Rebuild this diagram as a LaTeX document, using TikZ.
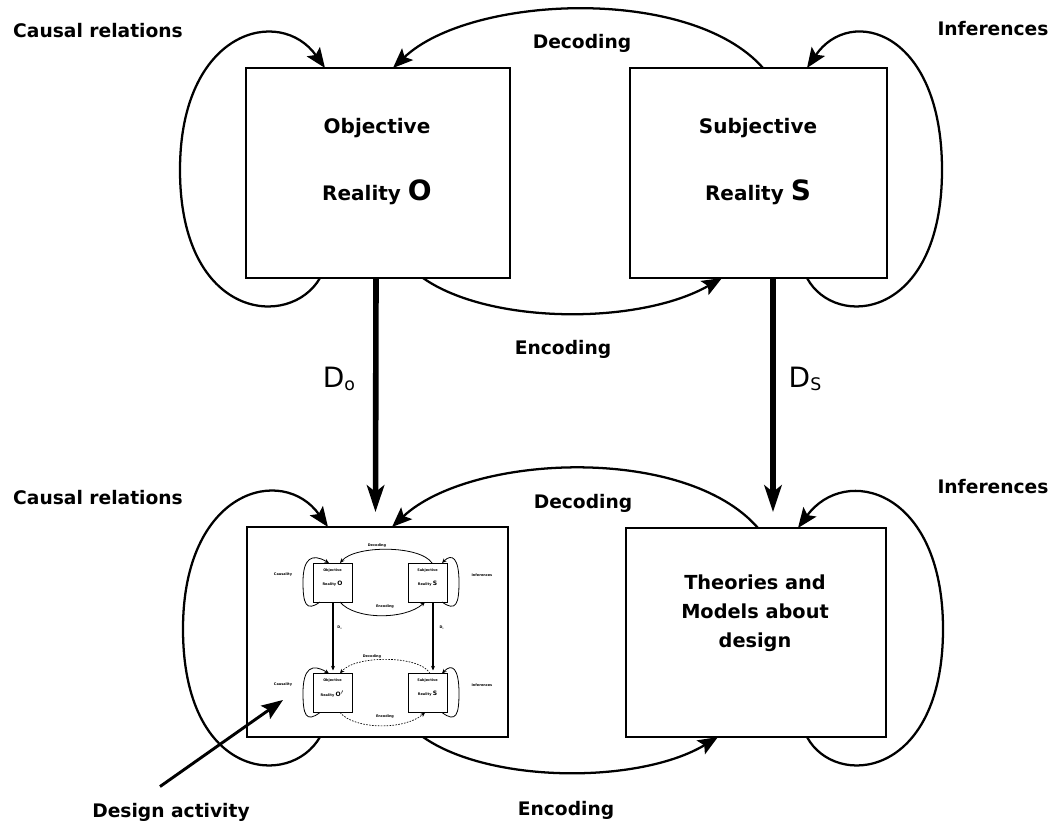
\documentclass[tikz,border=0pt]{standalone}
\usepackage{fontspec}
\setmainfont{DejaVu Sans}
\usetikzlibrary{arrows.meta,calc}
\begin{document}
\begin{tikzpicture}[x=0.75pt,y=-0.75pt,
  lbl/.style={font=\fontsize{14}{16}\selectfont\bfseries, inner sep=0pt, anchor=base},
  boxtxt/.style={font=\fontsize{15}{17}\selectfont\bfseries, inner sep=0pt, anchor=base},
  theory/.style={font=\fontsize{14.5}{21.75}\selectfont\bfseries, inner sep=0pt, align=center},
  dlbl/.style={font=\fontsize{21}{24}\selectfont, inner sep=0pt, anchor=base},
  bigbox/.style={draw, line width=1.9pt, outer sep=0pt, inner sep=0pt},
  loopline/.style={line width=1.7pt, -{Stealth[length=15pt,width=12pt,inset=3pt]}},
  dline/.style={line width=4.2pt, -{Stealth[length=20pt,width=13pt,inset=5pt]}},
  ptrline/.style={line width=2.2pt, -{Stealth[length=16pt,width=12pt,inset=3pt]}},
  minibox/.style={draw, line width=0.7pt, outer sep=0pt, inner sep=0pt, minimum width=29.25pt, minimum height=29.25pt},
  minitxt/.style={font=\fontsize{2.6}{3}\selectfont\bfseries, inner sep=0pt},
  miniline/.style={line width=0.6pt, -{Stealth[length=3.5pt,width=3pt]}},
  minidash/.style={line width=0.5pt, dashed, dash pattern=on 1.2pt off 1pt, -{Stealth[length=3.5pt,width=3pt]}}
]
\useasboundingbox (0,0) rectangle (1061,825);

% ---- the four main boxes ----
\node[bigbox, minimum width=198pt, minimum height=157.5pt] (O) at (378,173) {};
\node[bigbox, minimum width=192.75pt, minimum height=157.5pt] (S) at (758.5,173) {};
\node[bigbox, minimum width=195.75pt, minimum height=157.5pt] (L) at (377.5,632) {};
\node[bigbox, minimum width=195pt, minimum height=156.75pt] (T) at (756,632.5) {};

% ---- box texts ----
\node[boxtxt] (o1) at (377,133) {Objective};
\node[boxtxt] (o2) at (377,200) {Reality {\fontsize{21}{21}\selectfont O}};
\node[boxtxt] (s1) at (758,133) {Subjective};
\node[boxtxt] (s2) at (758,200) {Reality {\fontsize{21}{21}\selectfont S}};
\node[theory] (t1) at (755,613) {Theories and\\Models about\\design};

% ---- free labels ----
\node[lbl] (cr1) at (98,37) {Causal relations};
\node[lbl] (inf1) at (993,35) {Inferences};
\node[lbl] (dec1) at (582,48) {Decoding};
\node[lbl] (enc1) at (563,354) {Encoding};
\node[lbl] (cr2) at (98,504) {Causal relations};
\node[lbl] (inf2) at (993,493) {Inferences};
\node[lbl] (dec2) at (583,508) {Decoding};
\node[lbl] (enc2) at (566,815) {Encoding};
\node[lbl] (dact) at (171,817) {Design activity};
\node[dlbl] (do) at (339,387) {D\raisebox{-2.5pt}{\fontsize{13}{13}\selectfont o}};
\node[dlbl] (ds) at (805,387) {D\raisebox{-2.5pt}{\fontsize{13}{13}\selectfont S}};

% ---- upper loops ----
\draw[loopline] ($(O.south west)+(74,0)$) .. controls (290,330) and (180,320) .. (180,170)
  .. controls (180,30) and (280,5) .. ($(O.north west)+(79,0)$);
\draw[loopline] ($(S.south east)+(-80,0)$) .. controls (835,330) and (942,320) .. (942,170)
  .. controls (942,30) and (850,5) .. ($(S.north east)+(-80,0)$);
\draw[loopline] ($(S.north west)+(133,0)$) .. controls (690,-15) and (470,-5) .. ($(O.north west)+(147,0)$);
\draw[loopline] ($(O.south west)+(177,0)$) .. controls (490,325) and (640,325) .. ($(S.south west)+(92,0)$);

% ---- vertical mappings ----
\draw[dline] ($(O.south west)+(130,0)$) -- ($(L.north west)+(128.5,-15)$);
\draw[dline] ($(S.south west)+(143,0)$) -- ($(T.north west)+(147,-16)$);

% ---- lower loops ----
\draw[loopline] ($(L.south west)+(73,0)$) .. controls (290,789) and (183,779) .. (183,629)
  .. controls (183,489) and (283,464) .. ($(L.north west)+(81,0)$);
\draw[loopline] ($(T.south east)+(-79,0)$) .. controls (835,789) and (943,779) .. (943,629)
  .. controls (943,489) and (845,464) .. ($(T.north east)+(-88,0)$);
\draw[loopline] ($(T.north west)+(132,0)$) .. controls (685,444) and (470,454) .. ($(L.north west)+(145,0)$);
\draw[loopline] ($(L.south west)+(176,0)$) .. controls (490,784) and (640,784) .. ($(T.south west)+(92,0)$);

% ---- miniature of the scheme inside the lower left box ----
\node[minibox] (mO) at (332.5,582.5) {};
\node[minibox] (mS) at (427.5,582.5) {};
\node[minibox] (mO2) at (332.5,693) {};
\node[minibox] (mS2) at (427.5,693) {};
\node[minitxt] (mo1) at (332.5,571) {Objective};
\node[minitxt] (mo2) at (332.5,584) {Reality {\fontsize{4.5}{4.5}\selectfont O}};
\node[minitxt] (ms1) at (427.5,571) {Subjective};
\node[minitxt] (ms2) at (427.5,584) {Reality {\fontsize{4.5}{4.5}\selectfont S}};
\node[minitxt] (mo3) at (332.5,681) {Objective};
\node[minitxt] (mo4) at (332.5,694) {Reality {\fontsize{4.5}{4.5}\selectfont O$'$}};
\node[minitxt] (ms3) at (427.5,681) {Subjective};
\node[minitxt] (ms4) at (427.5,694) {Reality {\fontsize{4.5}{4.5}\selectfont S}};
\node[minitxt] (mdec1) at (377,546) {Decoding};
\node[minitxt] (menc1) at (385,607) {Encoding};
\node[minitxt] (mcr1) at (283,575) {Causality};
\node[minitxt] (minf1) at (482,575) {Inferences};
\node[minitxt] (mdo) at (340,628) {D$_\mathrm{o}$};
\node[minitxt] (mds) at (442,628) {D$_\mathrm{s}$};
\node[minitxt] (mdec2) at (372,657) {Decoding};
\node[minitxt] (menc2) at (385,717) {Encoding};
\node[minitxt] (mcr2) at (283,685) {Causality};
\node[minitxt] (minf2) at (482,685) {Inferences};

\draw[miniline] ($(mO.south west)+(7,0)$) .. controls (306,612) and (303,604) .. (303,582)
  .. controls (303,558) and (312,553) .. ($(mO.north west)+(16,0)$);
\draw[miniline] ($(mS.south east)+(-5,0)$) .. controls (456,612) and (459,604) .. (459,582)
  .. controls (459,558) and (452,553) .. ($(mS.north east)+(-5,0)$);
\draw[miniline] ($(mS.north west)+(24,0)$) .. controls (420,545) and (355,545) .. ($(mO.north west)+(27,0)$);
\draw[miniline] ($(mO.south west)+(27,0)$) .. controls (355,620) and (405,620) .. ($(mS.south west)+(17,0)$);
\draw[miniline, line width=0.8pt] ($(mO.south west)+(20,0)$) -- ($(mO2.north west)+(20,-3)$);
\draw[miniline, line width=0.8pt] ($(mS.south west)+(25,0)$) -- ($(mS2.north west)+(25,-3)$);
\draw[miniline] ($(mO2.south west)+(7,0)$) .. controls (306,723) and (303,715) .. (303,693)
  .. controls (303,668) and (312,663) .. ($(mO2.north west)+(16,0)$);
\draw[miniline] ($(mS2.south east)+(-5,0)$) .. controls (456,723) and (459,715) .. (459,693)
  .. controls (459,668) and (452,663) .. ($(mS2.north east)+(-5,0)$);
\draw[minidash] ($(mS2.north west)+(22,0)$) .. controls (420,655) and (355,655) .. ($(mO2.north west)+(27,0)$);
\draw[minidash] ($(mO2.south west)+(27,0)$) .. controls (355,730) and (405,730) .. ($(mS2.south west)+(17,0)$);

% ---- pointer to the design activity ----
\coordinate (dtarget) at (283,700);
\draw[ptrline] ($(dact.north)+(-11,-16)$) -- (dtarget);
\end{tikzpicture}
\end{document}
